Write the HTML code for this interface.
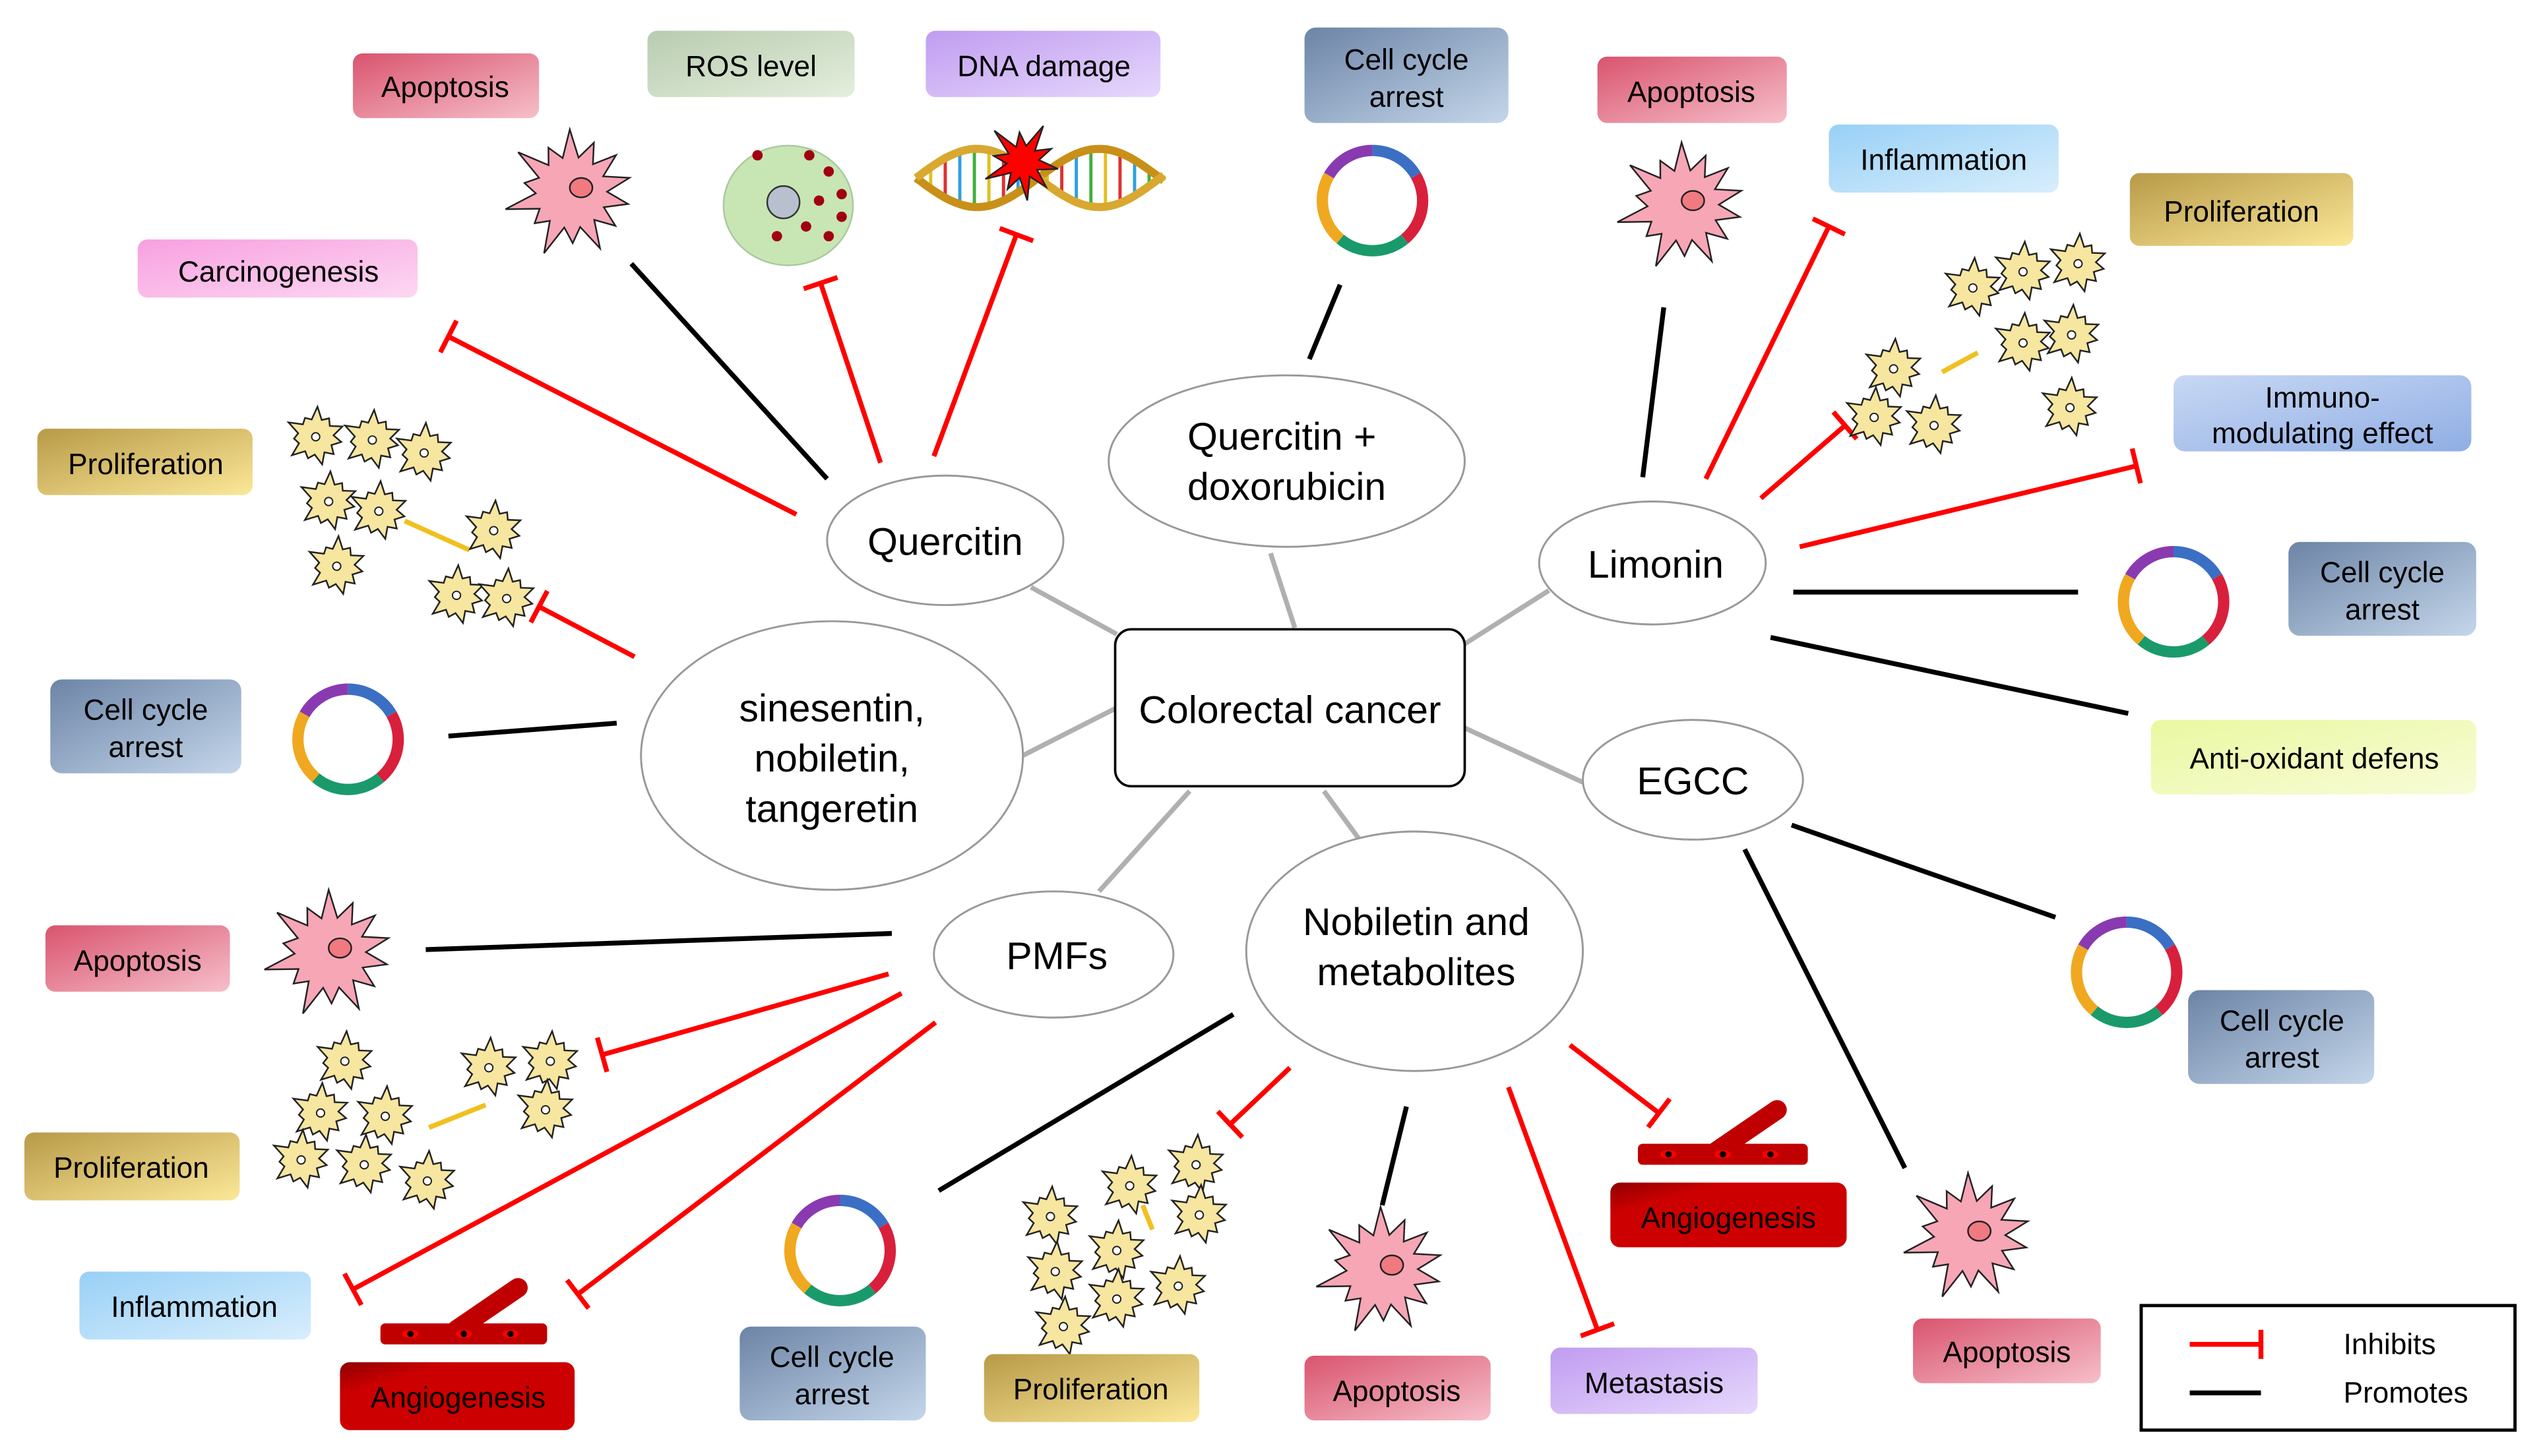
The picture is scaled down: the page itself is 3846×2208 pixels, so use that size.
<!DOCTYPE html>
<html><head><meta charset="utf-8"><style>
html,body{margin:0;padding:0;background:#fff}
svg{display:block}
text{font-family:"Liberation Sans",Arial,sans-serif}
</style></head><body>
<svg id="s" width="3846" height="2208" viewBox="0 0 1567.5 900" xmlns="http://www.w3.org/2000/svg">
<defs>
<linearGradient id="gPink" x1="0" y1="0" x2="1" y2="1"><stop offset="0" stop-color="#d9546e"/><stop offset="1" stop-color="#f6bfca"/></linearGradient>
<linearGradient id="gRos" x1="0" y1="0" x2="1" y2="1"><stop offset="0" stop-color="#b8ccb0"/><stop offset="1" stop-color="#e4eedc"/></linearGradient>
<linearGradient id="gLav" x1="0" y1="0" x2="1" y2="1"><stop offset="0" stop-color="#c09cf0"/><stop offset="1" stop-color="#e6d8fc"/></linearGradient>
<linearGradient id="gBlue" x1="0" y1="0" x2="1" y2="1"><stop offset="0" stop-color="#6c84a6"/><stop offset="1" stop-color="#c4d6ea"/></linearGradient>
<linearGradient id="gSky" x1="0" y1="0" x2="1" y2="1"><stop offset="0" stop-color="#98d0f6"/><stop offset="1" stop-color="#d8eefc"/></linearGradient>
<linearGradient id="gGold" x1="0" y1="0" x2="1" y2="1"><stop offset="0" stop-color="#b89a48"/><stop offset="1" stop-color="#fbe898"/></linearGradient>
<linearGradient id="gImm" x1="0" y1="0" x2="1" y2="1"><stop offset="0" stop-color="#c8d8f4"/><stop offset="1" stop-color="#90aee4"/></linearGradient>
<linearGradient id="gYel" x1="0" y1="0" x2="1" y2="1"><stop offset="0" stop-color="#eaf8a0"/><stop offset="1" stop-color="#f8fcd8"/></linearGradient>
<linearGradient id="gRed" x1="0" y1="0" x2="1" y2="1"><stop offset="0" stop-color="#900000"/><stop offset="0.25" stop-color="#cc0000"/><stop offset="1" stop-color="#cc0000"/></linearGradient>
<linearGradient id="gCarc" x1="0" y1="0" x2="1" y2="1"><stop offset="0" stop-color="#f8a0e0"/><stop offset="1" stop-color="#fcd8f2"/></linearGradient>
</defs>
<g id="lines" stroke-width="3" fill="none"></g>
<g id="icons"></g>
<g stroke="#b0b0b0" stroke-width="3">
<line x1="690" y1="392" x2="637" y2="363"/><line x1="800" y1="388" x2="785" y2="342"/>
<line x1="905" y1="398" x2="957" y2="365"/><line x1="905" y1="450" x2="979" y2="484"/>
<line x1="818" y1="489" x2="840" y2="519"/><line x1="735" y1="489" x2="679" y2="551"/>
<line x1="689" y1="438" x2="632" y2="467"/>
</g>
<g fill="#fff" stroke="#999" stroke-width="1.2">
<ellipse cx="584" cy="334" rx="73" ry="40"/><ellipse cx="795" cy="285" rx="110" ry="53"/>
<ellipse cx="1021" cy="348" rx="70" ry="38"/><ellipse cx="1046" cy="482" rx="68" ry="37"/>
<ellipse cx="874" cy="588" rx="104" ry="74"/><ellipse cx="651" cy="590" rx="74" ry="39"/>
<ellipse cx="514" cy="467" rx="118" ry="83"/>
</g>
<rect x="689" y="389" width="216" height="97" rx="10" fill="#fff" stroke="#000" stroke-width="1.5"/>
<g font-size="24" text-anchor="middle" fill="#000">
<text x="797" y="447">Colorectal cancer</text>
<text x="584" y="343">Quercitin</text>
<text x="792" y="278">Quercitin +</text><text x="795" y="309">doxorubicin</text>
<text x="1023" y="357">Limonin</text>
<text x="1046" y="491">EGCC</text>
<text x="875" y="578">Nobiletin and</text><text x="875" y="609">metabolites</text>
<text x="653" y="599">PMFs</text>
<text x="514" y="446">sinesentin,</text><text x="514" y="477">nobiletin,</text><text x="514" y="508">tangeretin</text>
</g>
<g font-size="18" text-anchor="middle" fill="#000">
<rect x="218" y="33" width="115" height="40" rx="6" fill="url(#gPink)"/><text x="275" y="60">Apoptosis</text>
<rect x="400" y="19" width="128" height="41" rx="6" fill="url(#gRos)"/><text x="464" y="47">ROS level</text>
<rect x="572" y="19" width="145" height="41" rx="6" fill="url(#gLav)"/><text x="645" y="47">DNA damage</text>
<rect x="806" y="17" width="126" height="59" rx="7" fill="url(#gBlue)"/><text x="869" y="43">Cell cycle</text><text x="869" y="66">arrest</text>
<rect x="987" y="35" width="117" height="41" rx="6" fill="url(#gPink)"/><text x="1045" y="63">Apoptosis</text>
<rect x="1130" y="77" width="142" height="42" rx="6" fill="url(#gSky)"/><text x="1201" y="105">Inflammation</text>
<rect x="1316" y="107" width="138" height="45" rx="6" fill="url(#gGold)"/><text x="1385" y="137">Proliferation</text>
<rect x="1343" y="232" width="184" height="47" rx="7" fill="url(#gImm)"/><text x="1435" y="252">Immuno-</text><text x="1435" y="274">modulating effect</text>
<rect x="1414" y="335" width="116" height="58" rx="7" fill="url(#gBlue)"/><text x="1472" y="360">Cell cycle</text><text x="1472" y="383">arrest</text>
<rect x="1329" y="445" width="201" height="46" rx="6" fill="url(#gYel)"/><text x="1430" y="475">Anti-oxidant defens</text>
<rect x="1352" y="612" width="115" height="58" rx="7" fill="url(#gBlue)"/><text x="1410" y="637">Cell cycle</text><text x="1410" y="660">arrest</text>
<rect x="1182" y="815" width="116" height="40" rx="6" fill="url(#gPink)"/><text x="1240" y="842">Apoptosis</text>
<rect x="958" y="833" width="128" height="41" rx="6" fill="url(#gLav)"/><text x="1022" y="861">Metastasis</text>
<rect x="995" y="731" width="146" height="40" rx="6" fill="url(#gRed)"/><text x="1068" y="759">Angiogenesis</text>
<rect x="806" y="838" width="115" height="40" rx="6" fill="url(#gPink)"/><text x="863" y="866">Apoptosis</text>
<rect x="608" y="837" width="133" height="42" rx="6" fill="url(#gGold)"/><text x="674" y="865">Proliferation</text>
<rect x="457" y="820" width="115" height="58" rx="7" fill="url(#gBlue)"/><text x="514" y="845">Cell cycle</text><text x="514" y="868">arrest</text>
<rect x="210" y="842" width="145" height="42" rx="6" fill="url(#gRed)"/><text x="283" y="870">Angiogenesis</text>
<rect x="49" y="786" width="143" height="42" rx="6" fill="url(#gSky)"/><text x="120" y="814">Inflammation</text>
<rect x="15" y="700" width="133" height="42" rx="6" fill="url(#gGold)"/><text x="81" y="728">Proliferation</text>
<rect x="28" y="572" width="114" height="41" rx="6" fill="url(#gPink)"/><text x="85" y="600">Apoptosis</text>
<rect x="31" y="420" width="118" height="58" rx="7" fill="url(#gBlue)"/><text x="90" y="445">Cell cycle</text><text x="90" y="468">arrest</text>
<rect x="23" y="265" width="133" height="41" rx="6" fill="url(#gGold)"/><text x="90" y="293">Proliferation</text>
<rect x="85" y="148" width="173" height="36" rx="6" fill="url(#gCarc)"/><text x="172" y="174">Carcinogenesis</text>
</g>
<rect x="1323" y="807" width="231" height="77" fill="#fff" stroke="#000" stroke-width="2"/>
<line x1="1353" y1="831" x2="1397" y2="831" stroke="#f00" stroke-width="3"/><line x1="1397" y1="822" x2="1397" y2="840" stroke="#f00" stroke-width="3"/>
<line x1="1353" y1="861" x2="1397" y2="861" stroke="#000" stroke-width="3"/>
<text x="1448" y="837" font-size="18">Inhibits</text><text x="1448" y="867" font-size="18">Promotes</text>
<script>
(function(){
var NS="http://www.w3.org/2000/svg",L=document.getElementById("lines"),I=document.getElementById("icons");
function el(p,t,a){var e=document.createElementNS(NS,t);for(var k in a)e.setAttribute(k,a[k]);p.appendChild(e);return e;}
function blk(x1,y1,x2,y2){el(L,"line",{x1:x1,y1:y1,x2:x2,y2:y2,stroke:"#000"});}
function red(x1,y1,x2,y2){el(L,"line",{x1:x1,y1:y1,x2:x2,y2:y2,stroke:"#f00"});
 var dx=x2-x1,dy=y2-y1,l=Math.hypot(dx,dy),px=-dy/l*11,py=dx/l*11;
 el(L,"line",{x1:x2+px,y1:y2+py,x2:x2-px,y2:y2-py,stroke:"#f00"});}
blk(511,296,390,163);red(544,286,507,175);red(577,282,628,145);red(492,318,277,208);
blk(809,222,828,176);
blk(1015,295,1028,190);red(1054,296,1130,140);red(1088,308,1140,263);red(1112,338,1320,288);
blk(1108,366,1284,366);blk(1094,394,1315,441);
blk(1107,510,1270,567);blk(1078,525,1177,722);
blk(762,627,580,736);red(797,660,760,695);blk(869,684,854,745);red(932,672,987,822);red(970,646,1025,688);
blk(551,577,263,587);red(549,602,372,652);red(557,614,218,797);red(578,632,357,800);
red(392,406,333,375);blk(381,447,277,455);
function star(cx,cy,R,r,n,fill){var p=[];for(var i=0;i<2*n;i++){var a=Math.PI*i/n+0.2,rr=i%2?r:R*(0.85+0.15*Math.sin(i*1.7));p.push((cx+rr*Math.cos(a)).toFixed(1)+","+(cy+rr*Math.sin(a)).toFixed(1));}
 el(I,"polygon",{points:p.join(" "),fill:fill,stroke:"#222","stroke-width":1});}
function apo(cx,cy){star(cx,cy,42,22,14,"#f7a6b6");el(I,"ellipse",{cx:cx+6,cy:cy-3,rx:7,ry:6,fill:"#f07a80",stroke:"#222","stroke-width":1});}
[[353,119],[1040,127],[204,589],[854,785],[1217,764]].forEach(function(c){apo(c[0],c[1]);});
function ring(cx,cy){var cols=["#3b6fc4","#d8203c","#1a9a6a","#f0a820","#8a3ab0"],r=31,sp=[0,60,140,220,300,360];
 for(var i=0;i<5;i++){var a1=(sp[i]-90)*Math.PI/180,a2=(sp[i+1]-90)*Math.PI/180;
  el(I,"path",{d:"M"+(cx+r*Math.cos(a1))+","+(cy+r*Math.sin(a1))+" A"+r+","+r+" 0 "+((sp[i+1]-sp[i])>180?1:0)+" 1 "+(cx+r*Math.cos(a2))+","+(cy+r*Math.sin(a2)),stroke:cols[i],"stroke-width":7,fill:"none"});}}
[[848,124],[1343,372],[215,457],[1314,601],[519,773]].forEach(function(c){ring(c[0],c[1]);});
function ycell(cx,cy){star(cx,cy,19,11,11,"#f6e6a0");el(I,"circle",{cx:cx,cy:cy,r:2.5,fill:"#fff",stroke:"#222","stroke-width":0.8});}
function cluster(pts,ln){el(I,"line",{x1:ln[0],y1:ln[1],x2:ln[2],y2:ln[3],stroke:"#f0c020","stroke-width":3});pts.forEach(function(p){ycell(p[0],p[1]);});}
cluster([[195,270],[230,272],[262,280],[203,310],[234,316],[208,350],[305,328],[282,368],[313,370]],[250,322,290,340]);
cluster([[1219,178],[1250,168],[1284,163],[1250,212],[1280,207],[1170,228],[1158,258],[1195,263],[1279,252]],[1200,230,1222,218]);
cluster([[213,656],[198,688],[238,690],[186,717],[225,720],[264,730],[302,660],[340,656],[337,686]],[265,697,300,683]);
cluster([[649,752],[698,733],[739,720],[741,751],[690,773],[652,786],[728,795],[690,803],[657,820]],[706,745,712,760]);
var d1="",d2="";for(var x=566;x<=720;x+=3){var y1=110+18*Math.sin((x-566)/24),y2=110-18*Math.sin((x-566)/24);d1+=(x==566?"M":"L")+x+","+y1.toFixed(1);d2+=(x==566?"M":"L")+x+","+y2.toFixed(1);
 if((x-566)%9==0)el(I,"line",{x1:x,y1:y1,x2:x,y2:y2,stroke:["#e03030","#30a0e0","#40b040","#e0c020"][(x/9|0)%4],"stroke-width":2});}
el(I,"path",{d:d1,stroke:"#c89018","stroke-width":5,fill:"none"});el(I,"path",{d:d2,stroke:"#d8a830","stroke-width":5,fill:"none"});
star(632,100,26,10,10,"#f00");
el(I,"ellipse",{cx:487,cy:127,rx:40,ry:37,fill:"#c8e6b4",stroke:"#aac8a0"});
el(I,"circle",{cx:484,cy:125,r:10,fill:"#b8c0d0",stroke:"#333"});
[[468,96],[500,96],[512,106],[520,120],[506,124],[498,140],[512,146],[480,146],[520,134]].forEach(function(p){el(I,"circle",{cx:p[0],cy:p[1],r:3.2,fill:"#a00010"});});
function vessel(x,y,w,bx,by,ex,ey){el(I,"line",{x1:bx,y1:by,x2:ex,y2:ey,stroke:"#c00000","stroke-width":12,"stroke-linecap":"round"});
 el(I,"rect",{x:x,y:y,width:w,height:13,rx:3,fill:"#c00000"});
 [0.18,0.5,0.78].forEach(function(f){el(I,"ellipse",{cx:x+w*f,cy:y+6.5,rx:5,ry:2.5,fill:"#f00"});el(I,"circle",{cx:x+w*f,cy:y+6.5,r:2,fill:"#000"});});}
vessel(1012,707,105,1060,712,1098,686);
vessel(235,818,103,282,822,320,796);
})();
</script>
</svg>
</body></html>
